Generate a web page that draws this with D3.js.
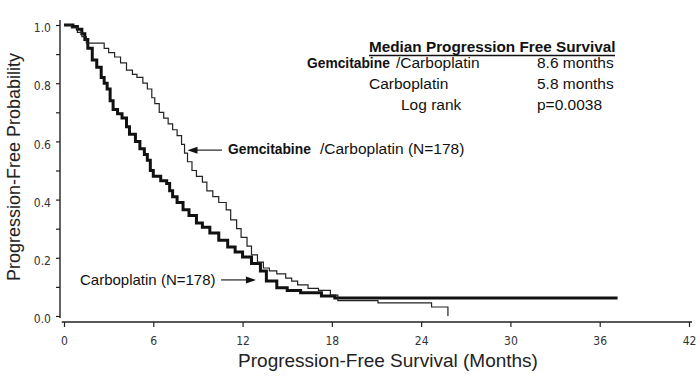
<!DOCTYPE html>
<html>
<head>
<meta charset="utf-8">
<script src="https://cdn.jsdelivr.net/npm/d3@7"></script>
<style>
  html, body { margin: 0; padding: 0; background: #fff; }
  svg { display: block; }
</style>
</head>
<body>
<div id="chart"></div>
<script>
const width = 700, height = 383;

// Kaplan-Meier steps: [months, probability]
const gemCarboTimes = [0, 0.5, 0.9, 1.2, 1.5, 2.7, 3.0, 3.4, 3.8, 4.2, 4.6, 4.9, 5.3, 5.6, 5.9, 6.1, 6.4, 6.7, 7.0, 7.3, 7.6, 7.9, 8.1, 8.3, 8.6, 8.9, 9.3, 9.6, 10.0, 10.4, 10.9, 11.2, 11.6, 11.9, 12.3, 12.6, 13.0, 13.4, 13.8, 14.3, 14.9, 15.3, 15.7, 16.4, 17.1, 17.9, 18.4, 21.1, 24.7, 25.8];
const gemCarboSurv  = [1.0, 0.99, 0.975, 0.96, 0.938, 0.92, 0.905, 0.89, 0.87, 0.845, 0.83, 0.82, 0.80, 0.78, 0.75, 0.73, 0.70, 0.68, 0.66, 0.64, 0.62, 0.59, 0.56, 0.53, 0.50, 0.48, 0.46, 0.43, 0.41, 0.39, 0.365, 0.33, 0.30, 0.27, 0.24, 0.21, 0.185, 0.165, 0.155, 0.145, 0.13, 0.12, 0.107, 0.095, 0.088, 0.072, 0.053, 0.045, 0.031, 0.0];

const carboTimes = [0, 0.6, 0.9, 1.2, 1.4, 1.6, 1.9, 2.2, 2.5, 2.7, 2.9, 3.1, 3.3, 3.6, 3.9, 4.2, 4.4, 4.8, 5.1, 5.4, 5.6, 5.8, 6.0, 6.5, 6.9, 7.1, 7.3, 7.6, 8.0, 8.4, 8.9, 9.3, 9.8, 10.4, 11.0, 11.5, 12.0, 12.6, 13.2, 13.6, 14.3, 15.0, 15.9, 17.3, 18.2, 37.2];
const carboSurv  = [1.0, 0.995, 0.985, 0.97, 0.95, 0.92, 0.88, 0.855, 0.82, 0.80, 0.78, 0.74, 0.71, 0.695, 0.68, 0.65, 0.625, 0.60, 0.575, 0.555, 0.535, 0.50, 0.48, 0.465, 0.455, 0.43, 0.41, 0.39, 0.365, 0.345, 0.32, 0.305, 0.285, 0.26, 0.237, 0.22, 0.203, 0.18, 0.155, 0.12, 0.097, 0.088, 0.08, 0.069, 0.062, 0.062];

const xTicks = [0, 6, 12, 18, 24, 30, 36, 42];
const yTicks = [0, 0.1, 0.2, 0.3, 0.4, 0.5, 0.6, 0.7, 0.8, 0.9, 1.0];

const medianRows = [
  {bold: "Gemcitabine", name: "/Carboplatin", value: "8.6 months"},
  {bold: "", name: "Carboplatin", value: "5.8 months"},
  {bold: "", name: "Log rank", value: "p=0.0038"}
];

const svg = d3.select("#chart").append("svg")
  .attr("width", width)
  .attr("height", height)
  .style("background", "#fff");

const x = d3.scaleLinear().domain([0, 42]).range([64, 689]);
const y = d3.scaleLinear().domain([0, 1]).range([316, 25]);

const tickFont = "'Liberation Sans Narrow', 'DejaVu Sans Condensed', 'Liberation Sans', sans-serif";
const textFont = "'Liberation Sans', Arial, sans-serif";

// y axis
let yAxis = svg.append("g")
  .attr("transform", "translate(60,0)")
  .call(d3.axisLeft(y).tickValues(yTicks).tickSize(4).tickSizeOuter(0)
    .tickFormat(function(d) { return Math.round(d * 10) % 2 == 0 ? d3.format(".1f")(d) : ""; }));
yAxis.select(".domain").remove();
yAxis.selectAll("line").attr("stroke", "#222").attr("stroke-width", 1.2);
yAxis.selectAll("text")
  .attr("x", -9)
  .attr("dy", "0.55em")
  .style("font-family", tickFont)
  .style("font-size", "12px")
  .attr("fill", "#333");
yAxis.append("line")
  .attr("x1", 0).attr("x2", 0)
  .attr("y1", y(1.017)).attr("y2", y(-0.007))
  .attr("stroke", "#222").attr("stroke-width", 1.4);

// x axis
let xAxis = svg.append("g")
  .attr("transform", "translate(0,322)")
  .call(d3.axisBottom(x).tickValues(xTicks).tickSize(5).tickSizeOuter(0));
xAxis.select(".domain").remove();
xAxis.selectAll("line").attr("stroke", "#222").attr("stroke-width", 1.2);
xAxis.selectAll("text")
  .attr("y", 14)
  .style("font-family", tickFont)
  .style("font-size", "12px")
  .attr("fill", "#333");
xAxis.append("line")
  .attr("x1", x(-0.15)).attr("x2", x(42.2))
  .attr("y1", 0).attr("y2", 0)
  .attr("stroke", "#222").attr("stroke-width", 1.4);

// axis titles
svg.append("text")
  .attr("x", 388)
  .attr("y", 367)
  .style("text-anchor", "middle")
  .style("font-family", textFont)
  .style("font-size", "19px")
  .attr("fill", "#222")
  .text("Progression-Free Survival (Months)");

svg.append("text")
  .attr("transform", "translate(20,167) rotate(-90)")
  .style("text-anchor", "middle")
  .style("font-family", textFont)
  .style("font-size", "18px")
  .attr("fill", "#222")
  .text("Progression-Free Probability");

// curves
let line = d3.line()
  .x(function(d) { return x(d[0]); })
  .y(function(d) { return y(d[1]); })
  .curve(d3.curveStepAfter);

let carbo = carboTimes.map(function(t, i) { return [t, carboSurv[i]]; });
let gemCarbo = gemCarboTimes.map(function(t, i) { return [t, gemCarboSurv[i]]; });

svg.append("path")
  .datum(carbo)
  .attr("d", line)
  .attr("fill", "none")
  .attr("stroke", "#111")
  .attr("stroke-width", 3);

svg.append("path")
  .datum(gemCarbo)
  .attr("d", line)
  .attr("fill", "none")
  .attr("stroke", "#222")
  .attr("stroke-width", 1.2);

// arrows
function arrow(x1, x2, yy) {
  svg.append("line")
    .attr("x1", x1).attr("x2", x2 + (x1 > x2 ? 8 : -8))
    .attr("y1", yy).attr("y2", yy)
    .attr("stroke", "#333").attr("stroke-width", 1.3);
  let dir = x1 > x2 ? 1 : -1;
  svg.append("path")
    .attr("d", `M${x2},${yy}L${x2 + dir * 10},${yy - 3.5}L${x2 + dir * 10},${yy + 3.5}Z`)
    .attr("fill", "#111");
}

arrow(222, x(8.3), y(0.57));
arrow(221, x(12.9), y(0.124));

// curve labels
let gemLabel = svg.append("text")
  .attr("x", 228)
  .attr("y", 154)
  .style("font-family", textFont)
  .attr("fill", "#111");
gemLabel.append("tspan")
  .style("font-weight", "bold")
  .style("font-size", "13.8px")
  .text("Gemcitabine");
gemLabel.append("tspan")
  .attr("x", 320)
  .style("font-size", "15.5px")
  .text("/Carboplatin (N=178)");

svg.append("text")
  .attr("x", 80)
  .attr("y", 285)
  .style("font-family", textFont)
  .style("font-size", "15px")
  .attr("fill", "#111")
  .text("Carboplatin (N=178)");

// median table
svg.append("text")
  .attr("x", 369)
  .attr("y", 52)
  .style("font-family", textFont)
  .style("font-size", "15.3px")
  .style("font-weight", "bold")
  .attr("fill", "#111")
  .text("Median Progression Free Survival");
svg.append("line")
  .attr("x1", 369).attr("x2", 615)
  .attr("y1", 55.5).attr("y2", 55.5)
  .attr("stroke", "#111").attr("stroke-width", 1.6);

let nameX = [396, 369, 401];
medianRows.forEach(function(r, i) {
  let yy = 68 + i * 21;
  if (r.bold) {
    svg.append("text")
      .attr("x", 307).attr("y", yy)
      .style("font-family", textFont)
      .style("font-size", "13.8px")
      .style("font-weight", "bold")
      .attr("fill", "#111")
      .text(r.bold);
  }
  svg.append("text")
    .attr("x", nameX[i]).attr("y", yy)
    .style("font-family", textFont)
    .style("font-size", "15.5px")
    .attr("fill", "#111")
    .text(r.name);
  svg.append("text")
    .attr("x", 537).attr("y", yy)
    .style("font-family", textFont)
    .style("font-size", "15.5px")
    .attr("fill", "#111")
    .text(r.value);
});
</script>
</body>
</html>
